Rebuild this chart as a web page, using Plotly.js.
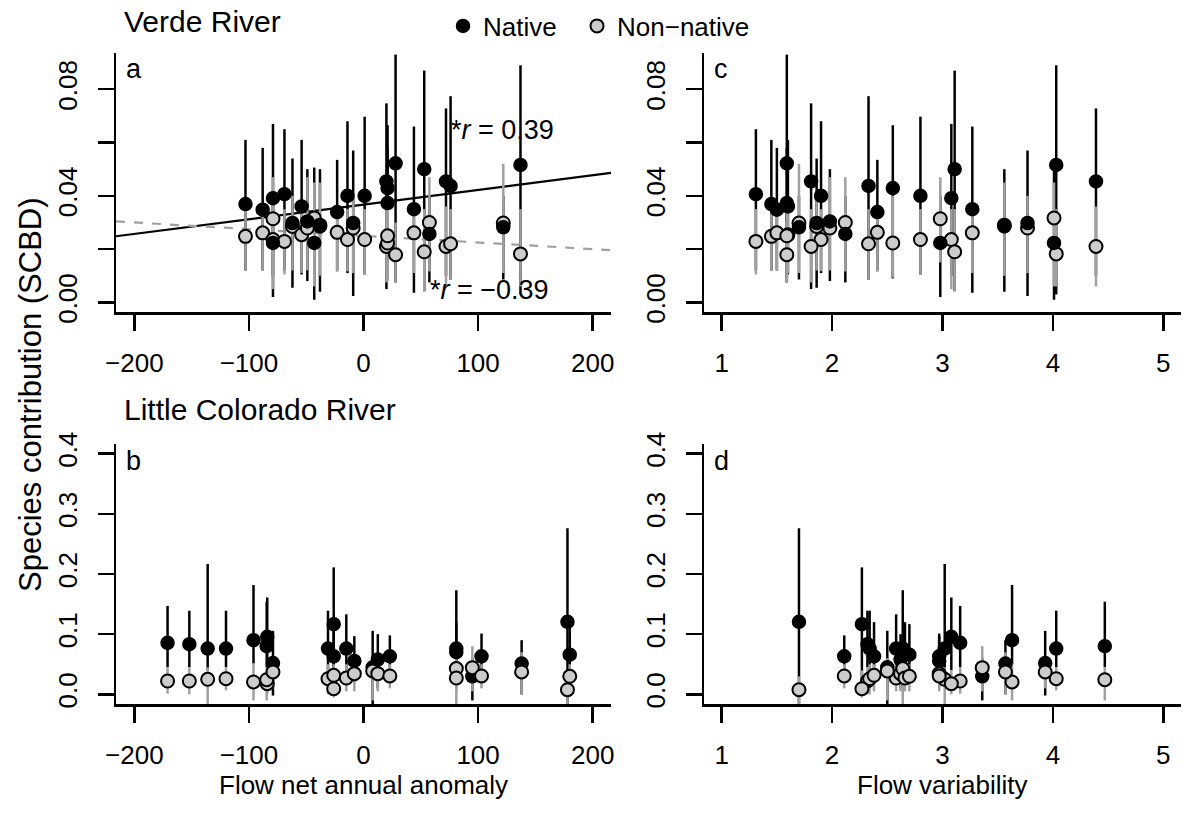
<!DOCTYPE html>
<html><head><meta charset="utf-8">
<script src="https://cdn.plot.ly/plotly-3.0.1.min.js"></script>
<style>html,body{margin:0;padding:0;background:#fff}#chart{width:1183px;height:822px}</style>
</head><body><div id="chart"></div>
<script>
// ---------- Verde River (panels a, c) ----------
const verdeAnomaly     = [-103, -88, -79, -79, -69, -62, -54, -49, -43, -38, -23, -14, -9, 1, 20, 21, 21, 28, 44, 53, 57.5, 72, 76, 122, 137];
const verdeVariability = [1.45, 1.50, 3.08, 2.98, 1.31, 1.86, 1.60, 1.98, 4.01, 3.56, 2.41, 1.90, 3.77, 2.80, 1.81, 2.55, 1.59, 1.59, 3.27, 3.11, 2.12, 4.39, 2.33, 1.70, 4.03];
const verdeNative      = [0.0369, 0.0348, 0.0391, 0.0223, 0.0406, 0.0298, 0.0360, 0.0304, 0.0223, 0.0285, 0.0339, 0.0400, 0.0298, 0.0400, 0.0454, 0.0429, 0.0373, 0.0522, 0.0350, 0.0500, 0.0257, 0.0454, 0.0437, 0.0282, 0.0516];
const verdeNativeLo    = [0.012, 0.012, 0.010, 0.002, 0.012, 0.0055, 0.0105, 0.008, 0.001, 0.004, 0.012, 0.011, 0.0024, 0.0105, 0.005, 0.009, 0.009, 0.0075, 0.0036, 0.0042, 0.0075, 0.010, 0.0086, 0.0086, 0.003];
const verdeNativeHi    = [0.061, 0.058, 0.067, 0.040, 0.065, 0.054, 0.061, 0.050, 0.0506, 0.050, 0.0535, 0.068, 0.057, 0.0697, 0.0747, 0.0665, 0.058, 0.093, 0.066, 0.087, 0.040, 0.0728, 0.0774, 0.040, 0.089];
const verdeNonNative   = [0.0248, 0.0261, 0.0236, 0.0314, 0.0229, 0.0285, 0.0254, 0.0279, 0.0317, 0.0290, 0.0263, 0.0236, 0.0279, 0.0236, 0.0210, 0.0223, 0.0250, 0.0179, 0.0261, 0.0190, 0.0300, 0.0210, 0.0220, 0.0298, 0.0182];
const verdeNonNativeLo = [0.012, 0.012, 0.005, 0.015, 0.0105, 0.012, 0.011, 0.012, 0.006, 0.010, 0.0115, 0.0117, 0.011, 0.0105, 0.0075, 0.0093, 0.008, 0.0075, 0.011, 0.0042, 0.0116, 0.006, 0.0086, 0.011, 0.006];
const verdeNonNativeHi = [0.036, 0.034, 0.035, 0.047, 0.035, 0.040, 0.038, 0.047, 0.045, 0.045, 0.036, 0.035, 0.040, 0.035, 0.035, 0.040, 0.038, 0.030, 0.035, 0.035, 0.047, 0.036, 0.035, 0.052, 0.035];

// ---------- Little Colorado River (panels b, d) ----------
const lcAnomaly     = [-171, -152, -136, -120, -96, -84, -84.5, -79, -31, -26, -26, -15, -8, 8, 12.5, 23, 81, 81, 95, 103, 138, 178, 180];
const lcVariability = [3.16, 2.32, 3.02, 4.03, 3.63, 3.08, 4.47, 3.93, 2.34, 2.27, 2.38, 2.58, 2.97, 2.50, 2.62, 2.11, 2.64, 2.66, 3.36, 2.97, 3.57, 1.70, 2.70];
const lcNative      = [0.0856, 0.0833, 0.0761, 0.0761, 0.0900, 0.0956, 0.0800, 0.0520, 0.0761, 0.1167, 0.0633, 0.0761, 0.0556, 0.0450, 0.0578, 0.0633, 0.0761, 0.0700, 0.0300, 0.0633, 0.0511, 0.1206, 0.0660];
const lcNativeLo    = [0.045, 0.045, 0.040, 0.045, 0.050, 0.040, 0.045, -0.002, 0.030, 0.010, 0.020, 0.030, 0.020, -0.016, 0.010, 0.035, 0.030, 0.030, -0.010, 0.030, 0.000, -0.016, 0.020];
const lcNativeHi    = [0.147, 0.139, 0.2167, 0.139, 0.1817, 0.161, 0.154, 0.1056, 0.139, 0.211, 0.120, 0.133, 0.0967, 0.1056, 0.100, 0.098, 0.173, 0.120, 0.060, 0.101, 0.090, 0.276, 0.1167];
const lcNonNative   = [0.0222, 0.0222, 0.0250, 0.0260, 0.0206, 0.0178, 0.0244, 0.0372, 0.0260, 0.0094, 0.0317, 0.0272, 0.0344, 0.0389, 0.0344, 0.0306, 0.0428, 0.0272, 0.0444, 0.0306, 0.0372, 0.0078, 0.0300];
const lcNonNativeLo = [0.001, 0.000, -0.016, 0.0067, -0.010, 0.000, -0.010, 0.010, 0.000, -0.005, 0.005, 0.005, 0.005, -0.010, 0.005, 0.010, -0.016, 0.005, 0.005, 0.010, 0.000, -0.016, 0.005];
const lcNonNativeHi = [0.0456, 0.045, 0.045, 0.045, 0.052, 0.040, 0.045, 0.060, 0.050, 0.040, 0.050, 0.050, 0.055, 0.060, 0.060, 0.050, 0.060, 0.050, 0.080, 0.050, 0.070, 0.030, 0.050];

// ---------- Fitted lines (panel a) ----------
const fitLabels    = ['*<i>r</i> = 0.39', '*<i>r</i> = \u22120.39'];
const fitIntercept = [0.0367, 0.0250];
const fitSlope     = [0.000055, -0.000025];

// ---------- Ticks / labels ----------
const anomalyTicks     = [-200, -100, 0, 100, 200];
const variabilityTicks = [1, 2, 3, 4, 5];
const verdeYTicks      = [0, 0.02, 0.04, 0.06, 0.08];
const verdeYTickText   = ['0.00', '', '0.04', '', '0.08'];
const lcYTicks         = [0, 0.1, 0.2, 0.3, 0.4];
const lcYTickText      = ['0.0', '0.1', '0.2', '0.3', '0.4'];
const groupNames       = ['Native', 'Non\u2212native'];
const riverNames       = ['Verde River', 'Little Colorado River'];
const panelLetters     = ['a', 'b', 'c', 'd'];
const axisTitles       = ['Flow net annual anomaly', 'Flow variability', 'Species contribution (SCBD)'];

// ---------- layout geometry (pixels) ----------
const W = 1183, H = 822;
const px = v => v / W, py = v => 1 - v / H;
const anomalyRange = [-216, 216], variabilityRange = [0.84, 5.16];
const verdeRange = [-0.0036, 0.0936], lcRange = [-0.016, 0.416];

const sub = (a, b) => a.map((v, i) => v - b[i]);

function panelTraces(xs, nat, natLo, natHi, non, nonLo, nonHi, xa, ya, nativeOnTop, legend) {
  const bars = (y, lo, hi, color) => ({
    type: 'scatter', mode: 'markers', x: xs, y: y, xaxis: xa, yaxis: ya,
    marker: {size: 1, color: 'rgba(0,0,0,0)'}, showlegend: false, hoverinfo: 'skip',
    error_y: {type: 'data', symmetric: false, array: sub(hi, y), arrayminus: sub(y, lo),
              color: color, thickness: 2.5, width: 0}
  });
  const natPts = {type: 'scatter', mode: 'markers', name: groupNames[0], x: xs, y: nat, xaxis: xa, yaxis: ya,
    marker: {size: 13, color: '#000000', line: {color: '#000000', width: 1.5}},
    showlegend: legend, legendrank: 1, legendwidth: 89, hoverinfo: 'skip'};
  const nonPts = {type: 'scatter', mode: 'markers', name: groupNames[1], x: xs, y: non, xaxis: xa, yaxis: ya,
    marker: {size: 13, color: '#cccccc', line: {color: '#000000', width: 2}},
    showlegend: legend, legendrank: 2, legendwidth: 140, hoverinfo: 'skip'};
  return [bars(nat, natLo, natHi, '#000000'), bars(non, nonLo, nonHi, '#a0a0a0')]
    .concat(nativeOnTop ? [nonPts, natPts] : [natPts, nonPts]);
}

let traces = [];
// fit lines in panel a
const fitColors = ['#000000', '#a0a0a0'], fitDash = ['solid', 'dash'];
fitIntercept.forEach((b0, i) => {
  traces.push({type: 'scatter', mode: 'lines', x: anomalyRange.slice(),
    y: anomalyRange.map(x => b0 + fitSlope[i] * x), xaxis: 'x', yaxis: 'y',
    line: {color: fitColors[i], width: 2.2, dash: fitDash[i]}, showlegend: false, hoverinfo: 'skip'});
});
traces = traces.concat(
  panelTraces(verdeAnomaly, verdeNative, verdeNativeLo, verdeNativeHi, verdeNonNative, verdeNonNativeLo, verdeNonNativeHi, 'x', 'y', true, true),
  panelTraces(verdeVariability, verdeNative, verdeNativeLo, verdeNativeHi, verdeNonNative, verdeNonNativeLo, verdeNonNativeHi, 'x2', 'y2', true, false),
  panelTraces(lcAnomaly, lcNative, lcNativeLo, lcNativeHi, lcNonNative, lcNonNativeLo, lcNonNativeHi, 'x3', 'y3', false, false),
  panelTraces(lcVariability, lcNative, lcNativeLo, lcNativeHi, lcNonNative, lcNonNativeLo, lcNonNativeHi, 'x4', 'y4', false, false)
);

const FONT = 'Liberation Sans, Arial, Helvetica, sans-serif';
const axBase = {showline: true, linecolor: '#000', linewidth: 2.5, ticks: 'outside', ticklen: 16, tickwidth: 2.5,
  tickcolor: '#000', showgrid: false, zeroline: false, tickfont: {size: 26, color: '#000', family: FONT},
  fixedrange: true, ticklabelstandoff: 10};
const leftDom = [px(116), px(611)], rightDom = [px(704), px(1181)];
const topDom = [py(312), py(53)], botDom = [py(704), py(444)];

const xa = (dom, rng, ticks, anchor) => Object.assign({}, axBase, {domain: dom, range: rng, tickvals: ticks, anchor: anchor});
const ya = (dom, rng, ticks, text, anchor) => Object.assign({}, axBase, {domain: dom, range: rng, tickvals: ticks, ticktext: text, tickangle: -90, anchor: anchor});

const ann = (text, x, y, size, opts) => Object.assign({text: text, x: x, y: y, xref: 'paper', yref: 'paper',
  showarrow: false, xanchor: 'left', yanchor: 'middle', font: {size: size, color: '#000', family: FONT}}, opts || {});

const annotations = [
  ann(riverNames[0], px(122), py(21), 30),
  ann(riverNames[1], px(122), py(410), 30),
  ann(panelLetters[0], px(124), py(69), 27),
  ann(panelLetters[1], px(124), py(461), 27),
  ann(panelLetters[2], px(712), py(69), 27),
  ann(panelLetters[3], px(712), py(461), 27),
  ann(fitLabels[0], px(449), py(130), 27),
  ann(fitLabels[1], px(428), py(290), 27),
  ann(axisTitles[0], px(363.5), py(785), 26, {xanchor: 'center'}),
  ann(axisTitles[1], px(942.5), py(785), 26, {xanchor: 'center'}),
  ann(axisTitles[2], px(30), py(395), 31, {xanchor: 'center', textangle: -90})
];

const layout = {
  width: W, height: H, margin: {l: 0, r: 0, t: 0, b: 0},
  paper_bgcolor: '#fff', plot_bgcolor: 'rgba(0,0,0,0)',
  font: {family: FONT, color: '#000'},
  showlegend: true,
  legend: {orientation: 'h', x: px(443), xanchor: 'left', y: py(26), yanchor: 'middle',
    font: {size: 26, color: '#000', family: FONT},
    bgcolor: 'rgba(0,0,0,0)', borderwidth: 0},
  xaxis: xa(leftDom, anomalyRange, anomalyTicks, 'y'),
  yaxis: ya(topDom, verdeRange, verdeYTicks, verdeYTickText, 'x'),
  xaxis2: xa(rightDom, variabilityRange, variabilityTicks, 'y2'),
  yaxis2: ya(topDom, verdeRange, verdeYTicks, verdeYTickText, 'x2'),
  xaxis3: xa(leftDom, anomalyRange, anomalyTicks, 'y3'),
  yaxis3: ya(botDom, lcRange, lcYTicks, lcYTickText, 'x3'),
  xaxis4: xa(rightDom, variabilityRange, variabilityTicks, 'y4'),
  yaxis4: ya(botDom, lcRange, lcYTicks, lcYTickText, 'x4'),
  annotations: annotations
};

Plotly.newPlot('chart', traces, layout, {staticPlot: true, displayModeBar: false});
</script>
</body></html>
